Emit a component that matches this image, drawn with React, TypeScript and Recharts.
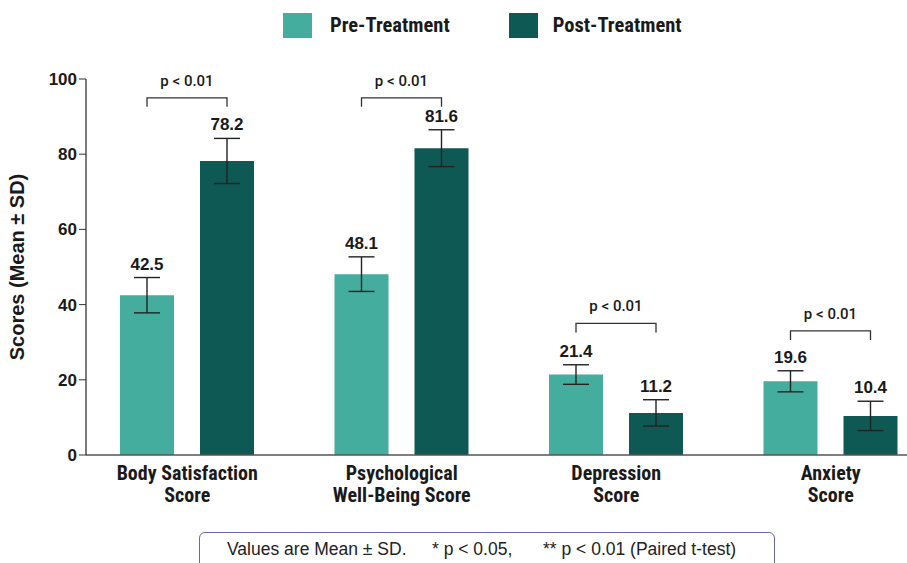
import { BarChart, Bar, XAxis, YAxis, Legend, ErrorBar, LabelList } from 'recharts'

const categories = ['Body Satisfaction\nScore', 'Psychological\nWell-Being Score', 'Depression\nScore', 'Anxiety\nScore']
const preMean = [42.5, 48.1, 21.4, 19.6]
const preSd = [4.7, 4.6, 2.6, 2.8]
const postMean = [78.2, 81.6, 11.2, 10.4]
const postSd = [6.0, 4.9, 3.5, 3.9]
const bracketLevel = [95, 95, 35, 33]
const pLabels = ['p < 0.01', 'p < 0.01', 'p < 0.01', 'p < 0.01']
const yTicks = [0, 20, 40, 60, 80, 100]

const data = categories.map((name, i) => ({
  name,
  pre: preMean[i], preSd: preSd[i],
  post: postMean[i], postSd: postSd[i],
}))

const PRE = '#45ad9e'
const POST = '#0f5955'
const INK = '#1a1a1a'
const BAR = 54
const GAP = 26
const NARROW = "'Liberation Sans Narrow', 'Arial Narrow', 'Roboto Condensed', sans-serif"
const SANS = "'Liberation Sans', Arial, Helvetica, sans-serif"

// value label sits above the error bar cap
const valueLabel = (sds: number[]) => (p: any) => {
  const { x, y, width, height, value, index } = p
  const perUnit = height / value
  const top = y - sds[index] * perUnit
  return (
    <text x={x + width / 2} y={top - 8} textAnchor="middle" fontFamily={SANS} fontWeight={700} fontSize={17} fill={INK}>
      {value.toFixed(1)}
    </text>
  )
}

// significance bracket between the pre and post bar of one group
const bracket = (p: any) => {
  const { x, y, width, height, value, index } = p
  const perUnit = height / value
  const base = y + height
  const ly = base - bracketLevel[index] * perUnit
  const x1 = x + width / 2
  const x2 = x1 + BAR + GAP
  return (
    <g>
      <path d={`M${x1},${ly + 9}V${ly}H${x2}V${ly + 9}`} fill="none" stroke="#333" strokeWidth={1.3} />
      <text x={(x1 + x2) / 2} y={ly - 12} textAnchor="middle" fontFamily="Roboto, sans-serif" fontWeight={500} fontSize={15} fill={INK}>
        {pLabels[index]}
      </text>
    </g>
  )
}

const CatTick = ({ x, y, payload }: any) => {
  const lines = String(payload.value).split('\n')
  return (
    <text x={x} y={y + 10} textAnchor="middle" fontFamily={NARROW} fontWeight={700} fontSize={20} fill={INK}>
      {lines.map((l, i) => <tspan key={i} x={x} dy={i === 0 ? 7 : 22}>{l}</tspan>)}
    </text>
  )
}

const LegendBox = () => (
  <div style={{ display: 'flex', alignItems: 'center', paddingLeft: 283, height: 40, fontFamily: NARROW, fontWeight: 700, fontSize: 20.5, color: INK }}>
    <span style={{ width: 29, height: 25, background: PRE, display: 'inline-block' }} />
    <span style={{ marginLeft: 18, marginRight: 59 }}>Pre-Treatment</span>
    <span style={{ width: 29, height: 25, background: POST, display: 'inline-block' }} />
    <span style={{ marginLeft: 15 }}>Post-Treatment</span>
  </div>
)

export default function App() {
  return (
    <div style={{ position: 'fixed', left: 0, top: 0, width: 907, height: 563, overflow: 'hidden', background: '#fff' }}>
      <BarChart width={945} height={563} data={data} barSize={BAR} barGap={GAP}
        margin={{ top: 39, right: 7, left: 0, bottom: 78 }}>
        <Legend verticalAlign="top" align="left" height={40} content={LegendBox}
          wrapperStyle={{ top: 5, left: 0, width: 907 }} />
        <XAxis dataKey="name" axisLine={{ stroke: '#555', strokeWidth: 1.5 }} tickLine={false} tick={CatTick}
          interval={0} padding={{ left: -6, right: 0 }} />
        <YAxis domain={[0, 100]} ticks={yTicks} width={86} axisLine={{ stroke: '#333', strokeWidth: 1.3 }}
          tickLine={{ stroke: '#333' }} tickSize={7}
          tick={{ fontFamily: SANS, fontWeight: 700, fontSize: 17, fill: INK }}
          label={{
            content: (p: any) => {
              const vb = p.viewBox
              const cy = vb.y + vb.height / 2
              return (
                <text x={24} y={cy} transform={`rotate(-90 24 ${cy})`} textAnchor="middle"
                  fontFamily={SANS} fontWeight={700} fontSize={20} fill={INK}>Scores (Mean ± SD)</text>
              )
            },
          }} />
        <Bar dataKey="pre" name="Pre-Treatment" fill={PRE} isAnimationActive={false}>
          <ErrorBar dataKey="preSd" width={13} stroke="#222" strokeWidth={1.4} isAnimationActive={false} />
          <LabelList dataKey="pre" content={valueLabel(preSd)} />
          <LabelList dataKey="pre" content={bracket} />
        </Bar>
        <Bar dataKey="post" name="Post-Treatment" fill={POST} isAnimationActive={false}>
          <ErrorBar dataKey="postSd" width={13} stroke="#222" strokeWidth={1.4} isAnimationActive={false} />
          <LabelList dataKey="post" content={valueLabel(postSd)} />
        </Bar>
      </BarChart>
      <div style={{ position: 'absolute', left: 199, top: 532, width: 576, height: 40, border: '1.5px solid #6a68a6',
        borderRadius: 6, boxSizing: 'border-box', fontFamily: SANS, fontSize: 17.5, color: '#222', lineHeight: '20px' }}>
        <span style={{ position: 'absolute', left: 27, top: 6 }}>Values are Mean ± SD.</span>
        <span style={{ position: 'absolute', left: 232, top: 6 }}>* p &lt; 0.05,</span>
        <span style={{ position: 'absolute', left: 343, top: 6 }}>** p &lt; 0.01 (Paired t-test)</span>
      </div>
    </div>
  )
}
